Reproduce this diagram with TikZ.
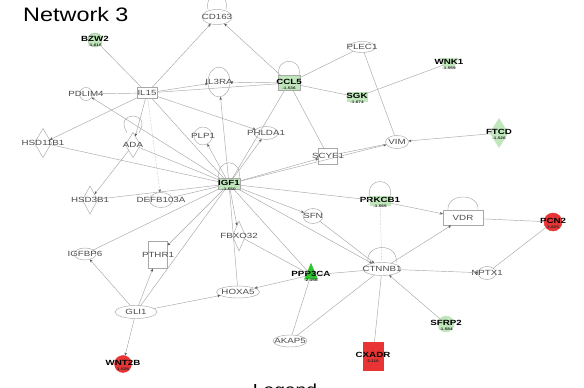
\documentclass[tikz,border=0pt]{standalone}
\usepackage{fontspec}
\newfontfamily\genefont[FakeStretch=1.3]{Liberation Sans}
\newfontfamily\headfont[FakeStretch=1.2]{Liberation Sans}
\usetikzlibrary{arrows.meta,shapes.geometric}
\definecolor{uplabel}{RGB}{232,52,52}
\definecolor{downlabel}{RGB}{192,231,188}
\definecolor{deepgreen}{RGB}{46,196,46}
\definecolor{linkgray}{RGB}{168,168,168}

\begin{document}
\begin{tikzpicture}[
  x=1pt, y=-1pt,
  gene/.style={draw=linkgray, fill=white, line width=0.45pt, inner sep=0pt,
    outer sep=0pt},
  sym/.style={label={[font=\genefont\fontsize{7.5}{7.5}\selectfont,
    text=black!70, inner sep=0pt]center:#1}},
  hit/.style={label={[font=\genefont\fontsize{7.5}{7.5}\selectfont\bfseries,
    text=black, inner sep=0pt, yshift=1.5pt]center:#1}},
  fc/.style={label={[font=\genefont\fontsize{3.6}{3.6}\selectfont\bfseries,
    text=black!85, inner sep=0pt, yshift=-5pt]center:#1}},
  edge/.style={draw=linkgray, line width=0.45pt},
  arr/.style={edge, -{Stealth[length=3.2pt,width=2.6pt,color=black!65]}}
]
  \useasboundingbox (0,0) rectangle (584,388);
  \fill[white] (0,0) rectangle (584,388);

  % title and the cut legend heading
  \node[font=\headfont\fontsize{19.5}{19.5}\selectfont, anchor=base west,
    inner sep=0pt] (title) at (23,21.7) {Network 3};
  \node[font=\headfont\fontsize{16}{16}\selectfont, anchor=base,
    inner sep=0pt] (legend) at (285,395) {Legend};

  % upper row
  \node[gene, ellipse, minimum width=30, minimum height=15, sym=CD163] (cd163) at (217,17) {};
  \node[gene, circle, fill=downlabel, draw=downlabel!80!black, minimum size=14, hit=BZW2, fc=-1.616] (bzw2) at (95,40) {};
  \node[gene, rectangle, minimum width=20, minimum height=11, sym=IL15] (il15) at (147,93) {};
  \node[gene, circle, minimum size=13, sym=PDLIM4] (pdlim4) at (86,94) {};
  \node[gene, ellipse, minimum width=22, minimum height=30, sym=IL3RA] (il3ra) at (219,82) {};
  \node[gene, rectangle, fill=downlabel, minimum width=22, minimum height=15, hit=CCL5, fc=-1.536] (ccl5) at (289,83) {};
  \node[gene, ellipse, minimum width=27, minimum height=11, sym=PLEC1] (plec1) at (362,47) {};
  \node[gene, rectangle, fill=downlabel, draw=downlabel, minimum width=20, minimum height=9, hit=SGK, fc=-1.674] (sgk) at (357,97) {};
  \node[gene, trapezium, shape border rotate=180, fill=downlabel, draw=downlabel, inner sep=1pt,
    trapezium left angle=65, trapezium right angle=65,
    minimum width=18, minimum height=8, hit=WNK1, fc=-1.559] (wnk1) at (449,63) {};

  % middle band
  \node[gene, diamond, fill=downlabel, draw=downlabel, minimum width=18, minimum height=29, hit=FTCD, fc=-1.526] (ftcd) at (499,133) {};
  \node[gene, ellipse, minimum width=23, minimum height=13, sym=VIM] (vim) at (397,142) {};
  \node[gene, diamond, minimum width=17, minimum height=29, sym=HSD11B1] (hsd11b1) at (43,143) {};
  \node[gene, diamond, minimum width=15, minimum height=25, sym=ADA] (ada) at (133,145) {};
  \node[gene, diamond, minimum width=15, minimum height=28, sym=HSD3B1] (hsd3b1) at (90,200) {};
  \node[gene, ellipse, minimum width=23, minimum height=15, sym=DEFB103A] (defb103a) at (161,200) {};
  \node[gene, circle, minimum size=18, sym=PLP1] (plp1) at (203,136) {};
  \node[gene, ellipse, minimum width=24, minimum height=13, sym=PHLDA1] (phlda1) at (266,133) {};
  \node[gene, rectangle, minimum width=19, minimum height=16, sym=SCYE1] (scye1) at (328,156) {};
  \node[gene, rectangle, fill=downlabel, minimum width=22, minimum height=11, hit=IGF1, fc=-1.550] (igf1) at (229,184) {};
  \node[gene, ellipse, minimum width=20, minimum height=15, sym=SFN] (sfn) at (313,216) {};
  \node[gene, rectangle, fill=downlabel, draw=downlabel, minimum width=20, minimum height=9, hit=PRKCB1, fc=-1.565] (prkcb1) at (380,201) {};
  \node[gene, rectangle, minimum width=40, minimum height=15, sym=VDR] (vdr) at (463,218) {};
  \node[gene, circle, fill=uplabel, draw=uplabel, minimum size=18, hit=PCN2, fc=1.825] (pcn2) at (553,222) {};
  \node[gene, diamond, minimum width=13, minimum height=30, sym=FBXO32] (fbxo32) at (239,236) {};

  % lower band
  \node[gene, ellipse, minimum width=22, minimum height=12, sym=IGFBP6] (igfbp6) at (85,254) {};
  \node[gene, rectangle, minimum width=19, minimum height=27, sym=PTHR1] (pthr1) at (158,255) {};
  \node[gene, ellipse, minimum width=38, minimum height=13, sym=CTNNB1] (ctnnb1) at (382,269) {};
  \node[gene, isosceles triangle, shape border rotate=90, fill=deepgreen, draw=deepgreen, inner sep=1pt,
    minimum width=13, minimum height=15, hit=PPP3CA, fc=-2.156] (ppp3ca) at (311,275) {};
  \node[gene, ellipse, minimum width=43, minimum height=12, sym=HOXA5] (hoxa5) at (238,292) {};
  \node[gene, ellipse, minimum width=18, minimum height=13, sym=NPTX1] (nptx1) at (487,273) {};
  \node[gene, ellipse, minimum width=42, minimum height=13, sym=GLI1] (gli1) at (136,312) {};
  \node[gene, ellipse, minimum width=34, minimum height=12, sym=AKAP5] (akap5) at (290,341) {};
  \node[gene, circle, fill=downlabel, draw=downlabel, minimum size=16, hit=SFRP2, fc=-1.584] (sfrp2) at (446,324) {};
  \node[gene, circle, fill=uplabel, draw=uplabel, minimum size=17, hit=WNT2B, fc=1.528] (wnt2b) at (123,364) {};
  \node[gene, rectangle, fill=uplabel, draw=uplabel, minimum width=20, minimum height=28, hit=CXADR, fc=2.110] (cxadr) at (373,356) {};

  % self loops
  \draw[edge] ([xshift=-9pt]cd163.north) .. controls +(-4,-20) and +(4,-20) .. ([xshift=9pt]cd163.north);
  \draw[edge] ([xshift=-10pt]ccl5.north) .. controls +(-4,-19) and +(4,-19) .. ([xshift=10pt]ccl5.north);
  \draw[edge] ([xshift=-10pt]igf1.north) .. controls +(-4,-21) and +(4,-21) .. ([xshift=10pt]igf1.north);
  \draw[edge] ([xshift=-6pt]ada.north) .. controls +(-14,-22) and +(14,-22) .. ([xshift=6pt]ada.north);
  \draw[edge] ([xshift=-10pt]prkcb1.north) .. controls +(-5,-20) and +(5,-20) .. ([xshift=10pt]prkcb1.north);
  \draw[edge] ([xshift=-15pt]vdr.north) .. controls +(-2,-18) and +(2,-18) .. ([xshift=15pt]vdr.north);
  \draw[edge] ([xshift=-14pt]ctnnb1.north) .. controls +(-3,-20) and +(3,-20) .. ([xshift=14pt]ctnnb1.north);

  % links around IL15
  \draw[edge] (bzw2) -- (il15);
  \draw[edge] (pdlim4) -- (il15);
  \draw[arr] (il15) -- (cd163);
  \draw[arr] (ccl5) -- (cd163);
  \draw[arr] (il15) -- (hsd11b1);
  \draw[arr] (il15) -- (il3ra);
  \draw[edge] (il15) -- (ccl5);
  \draw[arr] (il15) -- (phlda1);
  \draw[arr] (il15) -- (ada);
  \draw[arr, densely dotted] (il15) -- (defb103a);
  \draw[edge] (il15) -- (igf1);

  % links around IGF1
  \draw[arr] (igf1) -- (pdlim4);
  \draw[edge] (hsd11b1) -- (igf1);
  \draw[edge] (ada) -- (igf1);
  \draw[arr] (ada) -- (hsd3b1);
  \draw[edge] (hsd3b1) -- (igf1);
  \draw[edge] (defb103a) -- (igf1);
  \draw[arr] (igf1) -- (plp1);
  \draw[arr] (igf1) -- (phlda1);
  \draw[arr] (igf1) -- (il3ra);
  \draw[edge] (ccl5) -- (igf1);
  \draw[arr] (igf1) -- (scye1);
  \draw[arr] (igf1) -- (vim);
  \draw[edge] (igf1) -- (prkcb1);
  \draw[arr] (igf1) -- (sfn);
  \draw[arr] (igf1) -- (ctnnb1);
  \draw[edge] (igf1) -- (ppp3ca);
  \draw[arr] (igf1) -- (fbxo32);
  \draw[edge] (igf1) -- (hoxa5);
  \draw[arr] (igf1) -- (pthr1);
  \draw[edge] (igf1) -- (igfbp6);
  \draw[edge] (gli1) -- (igf1);

  % upper right
  \draw[arr] (ccl5) -- (il3ra);
  \draw[edge] (ccl5) -- (plec1);
  \draw[edge] (ccl5) -- (sgk);
  \draw[edge] (ccl5) -- (scye1);
  \draw[edge] (plec1) -- (vim);
  \draw[edge] (wnk1) -- (sgk);
  \draw[arr] (ftcd) -- (vim);
  \draw[edge] (scye1) -- (vim);

  % right side
  \draw[arr] (prkcb1) -- (vdr);
  \draw[edge, densely dotted] (prkcb1) -- (ctnnb1);
  \draw[arr] (ctnnb1) -- (vdr);
  \draw[edge] (vdr) -- (pcn2);
  \draw[edge] (pcn2) -- (nptx1);
  \draw[arr] (ctnnb1) -- (nptx1);
  \draw[arr] (sfrp2) -- (ctnnb1);
  \draw[edge] (ctnnb1) -- (cxadr);
  \draw[edge] (ctnnb1) -- (akap5);
  \draw[arr] (sfn) -- (ctnnb1);

  % lower left
  \draw[edge] (ppp3ca) -- (ctnnb1);
  \draw[edge] (ppp3ca) -- (akap5);
  \draw[edge] (fbxo32) -- (ppp3ca);
  \draw[arr] (ppp3ca) -- (hoxa5);
  \draw[arr] (gli1) -- (hoxa5);
  \draw[arr] (gli1) -- (pthr1);
  \draw[arr] (gli1) -- (igfbp6);
  \draw[arr] (gli1) -- (wnt2b);
\end{tikzpicture}
\end{document}
